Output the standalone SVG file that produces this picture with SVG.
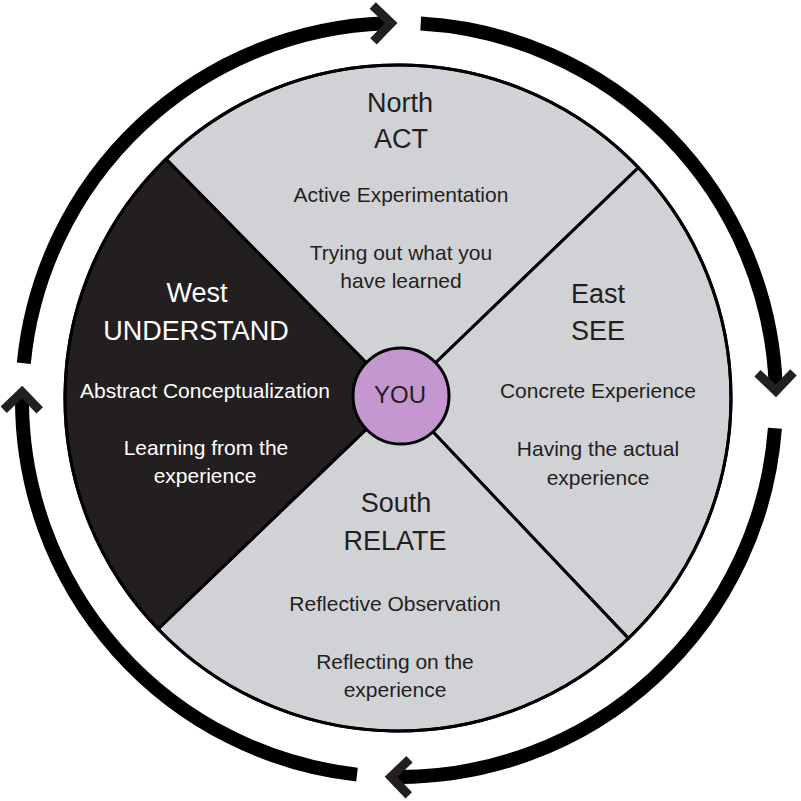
<svg xmlns="http://www.w3.org/2000/svg" width="801" height="801" viewBox="0 0 801 801">
<defs>
<style>
.sec{stroke:#000;stroke-width:3;stroke-linejoin:round}
.grey{fill:#d1d2d6}
.dark{fill:#231f20}
.ring{fill:none;stroke:#000;stroke-width:14;stroke-linecap:butt}
text{font-family:"Liberation Sans",Arial,sans-serif;text-anchor:middle}
.h{font-size:27px}
.b{font-size:21px}
.blk{fill:#231f20}
.wht{fill:#ffffff}
</style>
<path id="chev" d="M-18,-18 L0,0 L-18,18" fill="none" stroke="#231f20" stroke-width="9" stroke-linejoin="miter"/>
</defs>
<rect width="801" height="801" fill="#ffffff"/>

<g id="connectors">
<path class="ring" d="M420.7,23.6 A377,377 0 0 1 775.7,385.5"/>
<path class="ring" d="M774.9,428.3 A377,377 0 0 1 396.4,777"/>
<path class="ring" d="M357,774.6 A377,377 0 0 1 22,397.4"/>
<path class="ring" d="M23.8,363.2 A377,377 0 0 1 385.8,23.2"/>
<use href="#chev" transform="translate(775.9,390.8) rotate(88.6)"/>
<use href="#chev" transform="translate(391.1,776.9) rotate(181.2)"/>
<use href="#chev" transform="translate(22.1,392.1) rotate(271.2)"/>
<use href="#chev" transform="translate(391.1,23.1) rotate(358.8)"/>
</g>

<g id="north">
<path class="sec grey" d="M400,397 L166,159.1 A333,333 0 0 1 638.4,167.6 Z"/>
<text class="h blk" x="400" y="112">North</text>
<text class="h blk" x="401" y="148">ACT</text>
<text class="b blk" x="401" y="202">Active Experimentation</text>
<text class="b blk" x="401" y="260">Trying out what you</text>
<text class="b blk" x="401" y="288">have learned</text>
</g>

<g id="east">
<path class="sec grey" d="M400,397 L638.4,167.6 A333,333 0 0 1 628.4,638.4 Z"/>
<text class="h blk" x="598" y="303">East</text>
<text class="h blk" x="598" y="340">SEE</text>
<text class="b blk" x="598" y="398">Concrete Experience</text>
<text class="b blk" x="598" y="456">Having the actual</text>
<text class="b blk" x="598" y="485">experience</text>
</g>

<g id="south">
<path class="sec grey" d="M400,397 L628.4,638.4 A333,333 0 0 1 158.1,629 Z"/>
<text class="h blk" x="396" y="512">South</text>
<text class="h blk" x="395" y="550">RELATE</text>
<text class="b blk" x="395" y="611">Reflective Observation</text>
<text class="b blk" x="395" y="669">Reflecting on the</text>
<text class="b blk" x="395" y="697">experience</text>
</g>

<g id="west">
<path class="sec dark" d="M400,397 L158.1,629 A333,333 0 0 1 166,159.1 Z"/>
<text class="h wht" x="197" y="302">West</text>
<text class="h wht" x="196" y="340">UNDERSTAND</text>
<text class="b wht" x="205" y="398">Abstract Conceptualization</text>
<text class="b wht" x="206" y="455">Learning from the</text>
<text class="b wht" x="205" y="483">experience</text>
</g>

<circle cx="398" cy="398" r="333" fill="none" stroke="#000" stroke-width="3"/>

<g id="you">
<circle cx="401" cy="396" r="48" fill="#c597d1" stroke="#000" stroke-width="3"/>
<text class="blk" x="400" y="403" font-size="24">YOU</text>
</g>
</svg>
